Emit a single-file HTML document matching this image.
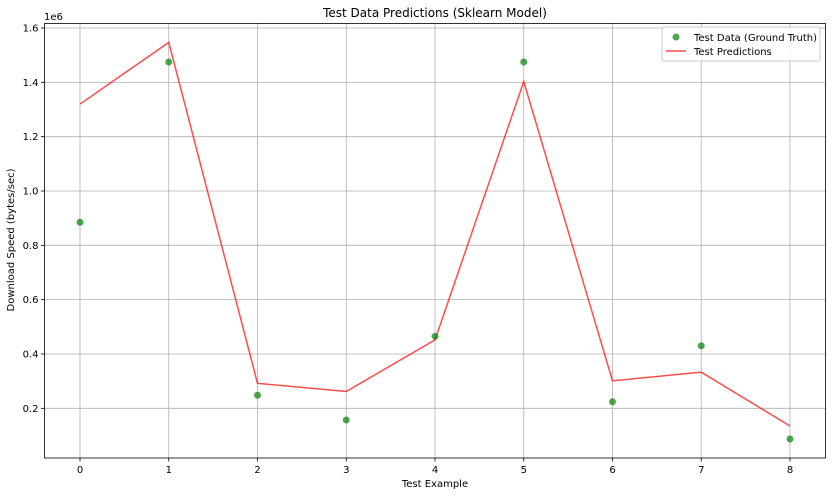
<!DOCTYPE html>
<html><head><meta charset="utf-8"><style>
html,body{margin:0;padding:0;background:#fff;}
svg text{font-family:"DejaVu Sans","Liberation Sans",sans-serif;fill:#000;}
</style></head><body>
<svg id="chart" width="832" height="496" xmlns="http://www.w3.org/2000/svg">
<rect width="832" height="496" fill="#fff"/>
<g id="grid"></g>
<g id="axes"></g>
<g id="series"></g>
<text x="435" y="17" font-size="12" text-anchor="middle">Test Data Predictions (Sklearn Model)</text>
<text x="435" y="487" font-size="10" text-anchor="middle">Test Example</text>
<text transform="translate(14,240) rotate(-90)" font-size="10" text-anchor="middle">Download Speed (bytes/sec)</text>
<text x="44" y="20" font-size="10">1e6</text>
<g>
<rect x="662" y="27" width="158" height="34" rx="2" fill="#fff" fill-opacity="0.8" stroke="#ccc"/>
<circle cx="676" cy="37" r="3.5" fill="green" fill-opacity="0.7"/>
<text x="694" y="41" font-size="10">Test Data (Ground Truth)</text>
<line x1="666" y1="51" x2="686" y2="51" stroke="red" stroke-opacity="0.7" stroke-width="1.5"/>
<text x="694" y="55" font-size="10">Test Predictions</text>
</g>
</svg>
<script>
const categories = [0,1,2,3,4,5,6,7,8];
const groundTruth = [0.885,1.475,0.248,0.157,0.465,1.475,0.224,0.430,0.087];
const predictions = [1.320,1.547,0.292,0.262,0.452,1.403,0.301,0.333,0.135];
const yTicks = [0.2,0.4,0.6,0.8,1.0,1.2,1.4,1.6];
const yTickLabels = ["0.2","0.4","0.6","0.8","1.0","1.2","1.4","1.6"];
const L=44.5,R=825.5,T=23.5,B=458;
const xMin=-0.4,xMax=8.4,yMin=0.0171,yMax=1.6166;
const xs=v=>L+(v-xMin)/(xMax-xMin)*(R-L);
const ys=v=>B-(v-yMin)/(yMax-yMin)*(B-T);
const NS="http://www.w3.org/2000/svg";
function mk(tag,attrs,parent){const e=document.createElementNS(NS,tag);for(const k in attrs)e.setAttribute(k,attrs[k]);parent.appendChild(e);return e;}
const grid=document.getElementById('grid'),axes=document.getElementById('axes'),series=document.getElementById('series');
categories.forEach(c=>{
  const x=xs(c);
  const g=mk('line',{x1:x,x2:x,y1:T,y2:B,stroke:'#b0b0b0','stroke-width':0.8},grid);
  
  
  const t=mk('line',{x1:x,x2:x,y1:B,y2:B+3.5,stroke:'#000','stroke-width':0.8},axes);
  
  
  const lb=mk('text',{x:x,y:B+15,'font-size':10,'text-anchor':'middle'},axes);
  lb.textContent=String(c);
  
  
});
yTicks.forEach((v,i)=>{
  const y=ys(v);
  const g=mk('line',{x1:L,x2:R,y1:y,y2:y,stroke:'#b0b0b0','stroke-width':0.8},grid);
  
  
  const t=mk('line',{x1:L-3.5,x2:L,y1:y,y2:y,stroke:'#000','stroke-width':0.8},axes);
  
  
  const lb=mk('text',{x:L-6,y:y+3.5,'font-size':10,'text-anchor':'end'},axes);
  lb.textContent=yTickLabels[i];
  
  
});
const frame=mk('rect',{x:L,y:T,width:R-L,height:B-T,fill:'none',stroke:'#000','stroke-width':0.8},axes);


const line=mk('polyline',{points:categories.map((c,i)=>xs(c)+','+ys(predictions[i])).join(' '),fill:'none',stroke:'red','stroke-opacity':0.7,'stroke-width':1.5},series);


categories.forEach((c,i)=>{
  const p=mk('circle',{cx:xs(c),cy:ys(groundTruth[i]),r:3.5,fill:'green','fill-opacity':0.7},series);
  
  
});
</script>
</body></html>
